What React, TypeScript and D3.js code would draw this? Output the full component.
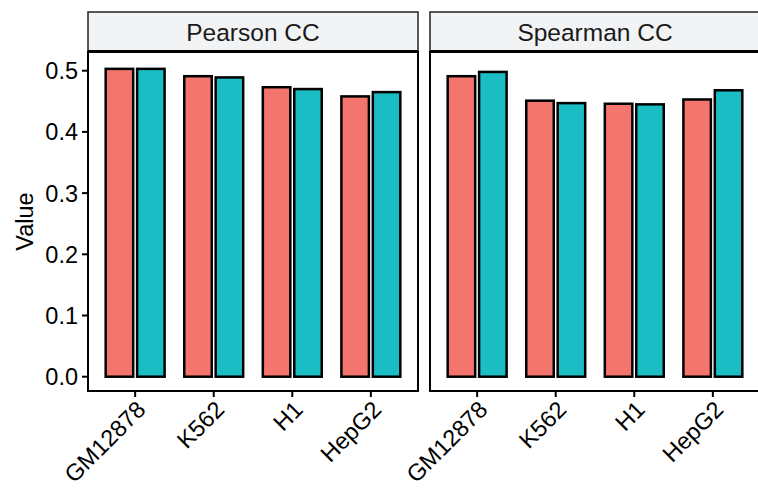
import React from "react";
import * as d3 from "d3";

// Cell lines on the x axis and the two correlation panels
const cellLines = ["GM12878", "K562", "H1", "HepG2"];
const panels = ["Pearson CC", "Spearman CC"];
const yTicks = [0, 0.1, 0.2, 0.3, 0.4, 0.5];

// Correlation values per panel, two groups per cell line
const pearsonGroupA = [0.503, 0.491, 0.473, 0.458];
const pearsonGroupB = [0.503, 0.489, 0.47, 0.465];
const spearmanGroupA = [0.491, 0.451, 0.446, 0.453];
const spearmanGroupB = [0.498, 0.447, 0.445, 0.468];

const groupColors = ["#F4756D", "#1ABDC3"];
const FONT = "'Liberation Sans', Arial, Helvetica, sans-serif";

export default function App() {
  const width = 758;
  const height = 489;

  const panelRanges: [number, number][] = [
    [88, 418],
    [430, 760],
  ];
  const stripTop = 12;
  const stripBottom = 52;
  const panelBottom = 391;

  const y = d3.scaleLinear().domain([0, 0.5]).range([376.7, 70.7]);

  const panelData = [
    [pearsonGroupA, pearsonGroupB],
    [spearmanGroupA, spearmanGroupB],
  ];

  return (
    <svg
      width={width}
      height={height}
      style={{ position: "absolute", left: 0, top: 0, background: "#fff" }}
      fontFamily={FONT}
    >
      {/* y axis title */}
      <text
        transform={`translate(33,${(stripBottom + panelBottom) / 2}) rotate(-90)`}
        textAnchor="middle"
        fontSize={23.5}
        fill="#000"
      >
        Value
      </text>

      {/* y tick labels and ticks */}
      {yTicks.map((t) => (
        <g key={t}>
          <text
            x={78}
            y={y(t)}
            dy="0.36em"
            textAnchor="end"
            fontSize={23.5}
            fill="#000"
          >
            {t.toFixed(1)}
          </text>
          <line x1={82} x2={88} y1={y(t)} y2={y(t)} stroke="#000" strokeWidth={2} />
        </g>
      ))}

      {panels.map((name, pi) => {
        const [x0, x1] = panelRanges[pi];
        const x = d3.scalePoint<string>().domain(cellLines).range([x0, x1]).padding(0.6);
        const step = x.step();
        const barW = 0.35 * step;
        const offsets = [-0.2 * step, 0.2 * step];
        const series = panelData[pi];
        return (
          <g key={name}>
            {/* strip */}
            <rect
              x={x0}
              y={stripTop}
              width={x1 - x0}
              height={stripBottom - stripTop}
              fill="#F2F3F5"
              stroke="#222"
              strokeWidth={1.5}
            />
            <text
              x={(x0 + x1) / 2}
              y={(stripTop + stripBottom) / 2 + 0.5}
              dy="0.36em"
              textAnchor="middle"
              fontSize={24.5}
              fill="#1a1a1a"
            >
              {name}
            </text>

            {/* bars */}
            {cellLines.map((c, ci) =>
              series.map((vals, si) => (
                <rect
                  key={`${c}-${si}`}
                  x={(x(c) as number) + offsets[si] - barW / 2}
                  y={y(vals[ci])}
                  width={barW}
                  height={y(0) - y(vals[ci])}
                  fill={groupColors[si]}
                  stroke="#000"
                  strokeWidth={2.5}
                />
              ))
            )}

            {/* panel border */}
            <rect
              x={x0}
              y={stripBottom}
              width={x1 - x0}
              height={panelBottom - stripBottom}
              fill="none"
              stroke="#000"
              strokeWidth={2}
            />
            <line x1={x0} x2={x1} y1={stripBottom - 0.5} y2={stripBottom - 0.5} stroke="#000" strokeWidth={3} />

            {/* x ticks and labels */}
            {cellLines.map((c) => (
              <g key={c}>
                <line
                  x1={x(c)}
                  x2={x(c)}
                  y1={panelBottom}
                  y2={panelBottom + 6}
                  stroke="#000"
                  strokeWidth={2}
                />
                <text
                  transform={`translate(${x(c)},${panelBottom + 8}) rotate(-45)`}
                  textAnchor="end"
                  dy="0.72em"
                  fontSize={23.5}
                  fill="#000"
                >
                  {c}
                </text>
              </g>
            ))}
          </g>
        );
      })}
    </svg>
  );
}
